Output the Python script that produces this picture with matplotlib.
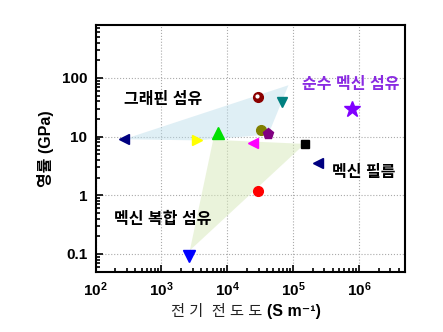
import matplotlib
matplotlib.use("Agg")
import matplotlib.pyplot as plt
from matplotlib.ticker import LogLocator, NullFormatter

plt.rcParams["font.family"] = ["Liberation Sans", "Noto Sans CJK KR", "DejaVu Sans"]

# conductivity (S/m), modulus (GPa), marker, colour
cond = [270, 3500, 7300, 25000, 29000, 67000, 32000, 41000, 150000, 240000, 29000, 2600, 780000]
modulus = [9.0, 8.8, 11.7, 7.7, 47, 39, 13, 11.1, 7.5, 3.5, 1.2, 0.091, 29.6]
markers = ["<", ">", "^", "<", "o", "v", "o", "p", "s", "<", "o", "v", "*"]
colors = ["#000080", "#ffff00", "#00e000", "#ff00ff", "#8b0000", "#008080", "#808000",
          "#800080", "#000000", "#000080", "#ff0000", "#0000ff", "#8000ff"]
sizes = [7, 7, 8, 7, 7, 7, 7, 8, 6, 7, 7, 8, 12]

# shaded regions
graphene_x = [270, 3500, 42000, 85000]
graphene_y = [9.0, 8.6, 10.8, 75]
composite_x = [6100, 150000, 2700]
composite_y = [8.8, 7.5, 0.115]

fig = plt.figure(figsize=(4.43, 3.32), dpi=100)
ax = fig.add_axes([0.216, 0.182, 0.698, 0.743])

ax.fill(graphene_x, graphene_y, color="#b9dcea", alpha=0.45, lw=0, zorder=1)
ax.fill(composite_x, composite_y, color="#d6e8b8", alpha=0.5, lw=0, zorder=1)

for x, y, m, c, s in zip(cond, modulus, markers, colors, sizes):
    ax.plot(x, y, marker=m, color=c, ms=s, mec=c, ls="none", zorder=3)
# highlight on the dark red sphere
ax.plot(cond[4] * 0.97, modulus[4] * 1.05, "o", color="white", ms=2, zorder=4)

ax.set_xscale("log")
ax.set_yscale("log")
ax.set_xlim(1e2, 5e6)
ax.set_ylim(0.05, 800)
ax.set_xticks([1e2, 1e3, 1e4, 1e5, 1e6])
ax.set_yticks([0.1, 1, 10, 100])
ax.set_yticklabels(["0.1", "1", "10", "100"])
ax.xaxis.set_minor_locator(LogLocator(base=10, subs=range(2, 10), numticks=20))
ax.yaxis.set_minor_locator(LogLocator(base=10, subs=range(2, 10), numticks=20))
ax.xaxis.set_minor_formatter(NullFormatter())
ax.yaxis.set_minor_formatter(NullFormatter())

ax.tick_params(which="both", direction="in", top=False, right=False, width=1.2)
ax.tick_params(which="major", length=5, labelsize=11, pad=6)
ax.tick_params(which="minor", length=3)
for lab in ax.get_xticklabels() + ax.get_yticklabels():
    lab.set_fontweight("bold")
for sp in ax.spines.values():
    sp.set_linewidth(1.5)

ax.grid(True, which="major", ls=":", color="#aaaaaa", lw=0.8)
ax.set_axisbelow(True)

# x label: Korean part in regular weight, unit in bold
fig.text(0.592, 0.061, "전 기  전 도 도", fontsize=11, color="#222222", ha="right", va="center")
fig.text(0.603, 0.061, "(S m⁻¹)", fontsize=11.5, fontweight="bold", ha="left", va="center")
ax.set_ylabel("영률 (GPa)", fontsize=11.5, fontweight="bold", labelpad=6)

label_kw = dict(fontsize=11.5, fontweight="bold", ha="center", va="center")
ax.text(1050, 43, "그래핀 섬유", **label_kw)
ax.text(1050, 0.38, "멕신 복합 섬유", **label_kw)
ax.text(1.2e6, 2.44, "멕신 필름", **label_kw)
ax.text(7.5e5, 76, "순수 멕신 섬유", color="#8a2be2", **label_kw)

fig.savefig("out.png", dpi=100)
